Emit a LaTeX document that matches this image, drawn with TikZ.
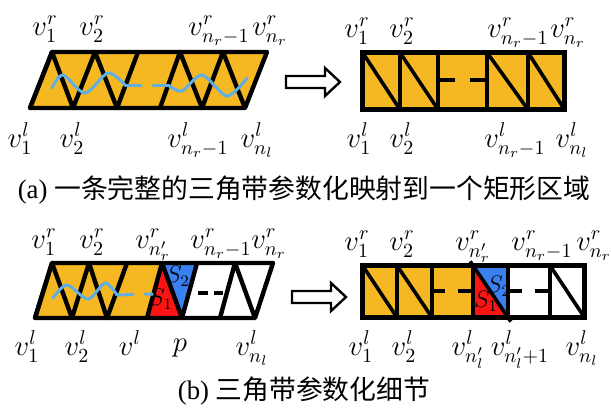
\documentclass[tikz,border=0pt]{standalone}
\usepackage{fontspec}
\setmainfont{Liberation Serif}
\newfontfamily\cjk{Noto Sans CJK SC}
\usetikzlibrary{calc}

\definecolor{stripfill}{RGB}{245,184,34}
\definecolor{sred}{RGB}{250,20,20}
\definecolor{sblue}{RGB}{58,128,240}
\definecolor{wavecol}{RGB}{95,175,230}

\tikzset{
  edge/.style={line width=2.2pt,line join=round},
  cellline/.style={line width=1.8pt},
  frame/.style={line width=2.5pt},
  vlab/.style={anchor=base,inner sep=0pt,font=\Large},
  slab/.style={inner sep=0pt,font=\large},
  wavy/.style={wavecol,line width=1.5pt,line cap=round},
  hollow/.style={draw,line width=1.2pt,fill=white,line join=miter},
  caption/.style={inner sep=0pt,font=\fontsize{13.4}{16}\selectfont},
}

\begin{document}
\begin{tikzpicture}[x=0.5pt,y=-0.5pt]
  \useasboundingbox (0,0) rectangle (611,412);

  % (a) strip
  \foreach \i/\x in {1/52,2/95,3/138,4/180,5/223,6/267} \coordinate (ar\i) at (\x,52);
  \foreach \i/\x in {1/30,2/73,3/117,4/160,5/202,6/245} \coordinate (al\i) at (\x,108);
  \fill[stripfill] (al1) -- (ar1) -- (ar6) -- (al6) -- cycle;
  \draw[edge] (al1) -- (ar1) -- (al2) -- (ar2) -- (al3) -- (ar3);
  \draw[edge] (al4) -- (ar4) -- (al5) -- (ar5) -- (al6);
  \draw[edge] (al1) -- (ar1) -- (ar6) -- (al6) -- cycle;
  \draw[wavy] plot[smooth] coordinates {(52,88) (63,75) (85,93) (108,73) (125,85)};
  \draw[wavy,dash pattern=on 8pt off 6pt] (125,85) -- (168,85);
  \draw[wavy] plot[smooth] coordinates {(168,85) (182,91) (202,75) (227,96) (247,78)};

  \foreach \n/\x/\t in {1/45/{v^r_1},2/92/{v^r_2},3/219/{v^r_{n_r{-}1}},4/270/{v^r_{n_r}}}
    \node[vlab] (atl\n) at (\x,35) {$\t$};
  \foreach \n/\x/\t in {1/20/{v^l_1},2/72/{v^l_2},3/198/{v^l_{n_r{-}1}},4/257/{v^l_{n_l}}}
    \node[vlab] (abl\n) at (\x,147) {$\t$};

  \draw[hollow] (286,76) -- (325,76) -- (325,68) -- (340,82) -- (325,96) -- (325,88) -- (286,88) -- cycle;

  % (a) rectangle
  \foreach \i/\x in {1/362.5,2/400,3/438,4/487,5/528,6/564.5} {
    \coordinate (ru\i) at (\x,52.5);
    \coordinate (rd\i) at (\x,109.5);
  }
  \fill[stripfill] (ru1) rectangle (rd6);
  \foreach \i/\j in {1/2,2/3,4/5,5/6} \draw[cellline] (ru\i) -- (rd\j);
  \foreach \i in {2,3,4,5} \draw[cellline] (ru\i) -- (rd\i);
  \draw[cellline] (438,80) -- (455,80) (470,80) -- (487,80);
  \draw[frame] (ru1) rectangle (rd6);

  \foreach \n/\x/\t in {1/357/{v^r_1},2/402/{v^r_2},3/518/{v^r_{n_r{-}1}},4/568/{v^r_{n_r}}}
    \node[vlab] (btl\n) at (\x,37) {$\t$};
  \foreach \n/\x/\t in {1/359/{v^l_1},2/402/{v^l_2},3/515/{v^l_{n_r{-}1}},4/572/{v^l_{n_l}}}
    \node[vlab] (bbl\n) at (\x,147) {$\t$};

  \node[caption] (capa) at (304,190) {(a) {\cjk 一条完整的三角带参数化映射到一个矩形区域}};

  % (b) strip
  \foreach \i/\x in {1/52,2/89,3/127,4/162,5/197,6/235,7/273} \coordinate (cr\i) at (\x,263);
  \foreach \i/\x in {1/35,2/72,3/107,4/147,5/182,6/220,7/255} \coordinate (cl\i) at (\x,318);
  \fill[stripfill] (cl1) -- (cr1) -- (cr4) -- (cl4) -- cycle;
  \fill[sred] (cl4) -- (cr4) -- (cl5) -- cycle;
  \fill[sblue] (cr4) -- (cr5) -- (cl5) -- cycle;
  \draw[edge] (cl1) -- (cr1) -- (cl2) -- (cr2) -- (cl3) -- (cr3);
  \draw[edge] (cl4) -- (cr4) -- (cl5) -- (cr5);
  \draw[edge] (cl6) -- (cr6) -- (cl7);
  \draw[edge] (cl1) -- (cr1) -- (cr7) -- (cl7) -- cycle;
  \draw[line width=2pt,dash pattern=on 5pt off 3pt] (198,293) -- (223,293);
  \draw[wavy] plot[smooth] coordinates {(53,298) (67,285) (88,299) (105,283) (117,295)};
  \draw[wavy,dash pattern=on 8pt off 6pt] (117,295) -- (153,294);
  \node[slab] (s2a) at (178,276) {$S_2$};
  \node[slab] (s1a) at (161,299) {$S_1$};

  \foreach \n/\x/\t in {1/44/{v^r_1},2/92/{v^r_2},3/153/{v^r_{n'_r}},4/221/{v^r_{n_r{-}1}},5/269/{v^r_{n_r}}}
    \node[vlab] (ctl\n) at (\x,248) {$\t$};
  \foreach \n/\x/\t in {1/27/{v^l_1},2/77/{v^l_2},3/130/{v^l},5/252/{v^l_{n_l}}}
    \node[vlab] (cbl\n) at (\x,355) {$\t$};
  \node[vlab] (cbl4) at (180,351) {$p$};

  \draw[hollow] (292,291) -- (331,291) -- (331,283) -- (346,297) -- (331,311) -- (331,303) -- (292,303) -- cycle;

  % (b) rectangle
  \foreach \i/\x in {1/362.5,2/397,3/432,4/473,5/508,6/550,7/584.5} {
    \coordinate (qu\i) at (\x,265.5);
    \coordinate (qd\i) at (\x,317.5);
  }
  \fill[stripfill] (qu1) rectangle (qd4);
  \fill[sred] (qu4) -- (qd4) -- (qd5) -- cycle;
  \fill[sblue] (qu4) -- (qu5) -- (qd5) -- cycle;
  \foreach \i/\j in {1/2,2/3,6/7} \draw[cellline] (qu\i) -- (qd\j);
  \draw[cellline] ($(qu4)!-0.08!(qd5)$) -- ($(qu4)!1.08!(qd5)$);
  \foreach \i in {2,...,6} \draw[cellline] (qu\i) -- (qd\i);
  \draw[cellline] (432,291) -- (445,291) (458,291) -- (473,291);
  \draw[cellline] (508,291) -- (522,291) (535,291) -- (550,291);
  \draw[frame] (qu1) rectangle (qd7);
  \node[slab] (s2b) at (499,286) {$S_2$};
  \node[slab] (s1b) at (486,301) {$S_1$};

  \foreach \n/\x/\t in {1/357/{v^r_1},2/402/{v^r_2},3/473/{v^r_{n'_r}},4/542/{v^r_{n_r{-}1}},5/594/{v^r_{n_r}}}
    \node[vlab] (dtl\n) at (\x,250) {$\t$};
  \foreach \n/\x/\t in {1/361/{v^l_1},2/404/{v^l_2},3/468/{v^l_{n'_l}},4/520/{v^l_{n'_l+1}},5/582/{v^l_{n_l}}}
    \node[vlab] (dbl\n) at (\x,355) {$\t$};

  \node[caption] (capb) at (304,391) {(b) {\cjk 三角带参数化细节}};
\end{tikzpicture}
\end{document}
